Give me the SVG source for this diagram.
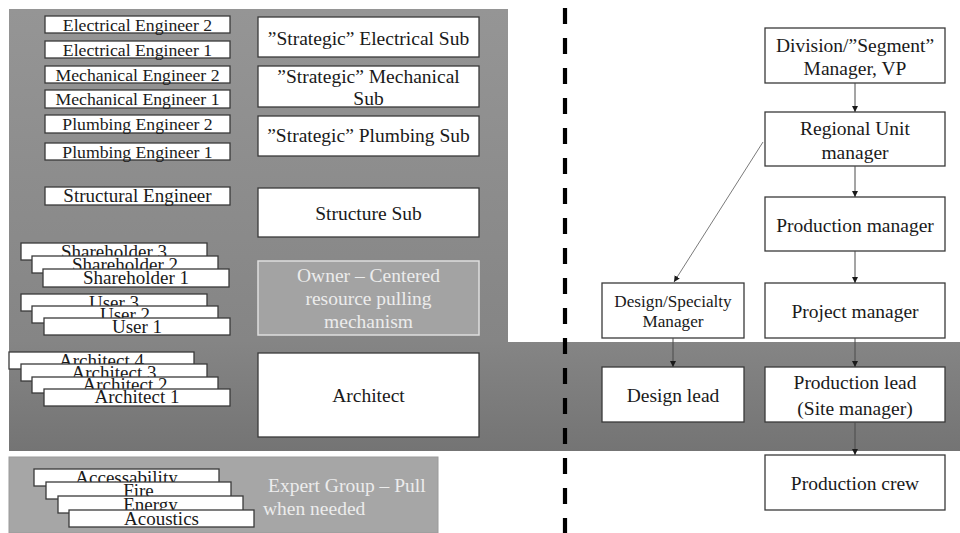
<svg xmlns="http://www.w3.org/2000/svg" width="960" height="533" viewBox="0 0 960 533">
  <style>
    .bx { fill: #ffffff; stroke: #3a3a3a; stroke-width: 1.3; }
    .t { font-family: "Liberation Serif", "Times New Roman", serif; fill: #1a1a1a; text-anchor: middle; }
    .sm { font-size: 17.7px; }
    .md { font-size: 19px; }
    .lg { font-size: 19.5px; }
    .lt { fill: #ececec; }
    .conn { fill: none; stroke: #4a4a4a; stroke-width: 1; }
    .diag { fill: none; stroke: #7a7a7a; stroke-width: 1; }
    .split { stroke: #000000; stroke-width: 4.2; stroke-dasharray: 16 14; }
  </style>
  <defs>
    <linearGradient id="panelGrad" gradientUnits="userSpaceOnUse" x1="0" y1="9" x2="0" y2="451">
      <stop offset="0" stop-color="#959595"/>
      <stop offset="0.75" stop-color="#858585"/>
      <stop offset="1" stop-color="#747474"/>
    </linearGradient>
    <marker id="arrow" markerUnits="userSpaceOnUse" markerWidth="8" markerHeight="8" refX="6" refY="3" orient="auto">
      <path d="M0,0 L6,3 L0,6 Z" fill="#1a1a1a"/>
    </marker>
  </defs>

  <rect x="0" y="0" width="960" height="533" fill="#ffffff"/>

  <!-- background panels -->
  <g id="panels">
    <path d="M9,9 H508 V342 H960 V451 H9 Z" fill="url(#panelGrad)"/>
    <rect x="9" y="457" width="429" height="76" fill="#a6a6a6" stroke="#9a9a9a" stroke-width="1"/>
  </g>

  <!-- dividing line -->
  <line class="split" x1="565" y1="8" x2="565" y2="533"/>

  <!-- engineers -->
  <g id="elec-eng-2"><rect class="bx" x="45" y="16" width="185" height="17"/><text class="t sm" x="137.5" y="30.5">Electrical Engineer 2</text></g>
  <g id="elec-eng-1"><rect class="bx" x="45" y="41" width="185" height="17"/><text class="t sm" x="137.5" y="55.5">Electrical Engineer 1</text></g>
  <g id="mech-eng-2"><rect class="bx" x="45" y="66" width="185" height="17"/><text class="t sm" x="137.5" y="80.5">Mechanical Engineer 2</text></g>
  <g id="mech-eng-1"><rect class="bx" x="45" y="90" width="185" height="18"/><text class="t sm" x="137.5" y="105">Mechanical Engineer 1</text></g>
  <g id="plumb-eng-2"><rect class="bx" x="45" y="115" width="185" height="18"/><text class="t sm" x="137.5" y="130">Plumbing Engineer 2</text></g>
  <g id="plumb-eng-1"><rect class="bx" x="45" y="143" width="185" height="17"/><text class="t sm" x="137.5" y="157.5">Plumbing Engineer 1</text></g>
  <g id="struct-eng"><rect class="bx" x="45" y="187" width="185" height="18"/><text class="t md" x="137.5" y="202">Structural Engineer</text></g>

  <!-- shareholders -->
  <g id="shareholders">
    <rect class="bx" x="21" y="243" width="186" height="17"/><text class="t md" x="114" y="258">Shareholder 3</text>
    <rect class="bx" x="32" y="256" width="186" height="17"/><text class="t md" x="125" y="271">Shareholder 2</text>
    <rect class="bx" x="43" y="269" width="186" height="18"/><text class="t md" x="136" y="284">Shareholder 1</text>
  </g>

  <!-- users -->
  <g id="users">
    <rect class="bx" x="21" y="294" width="186" height="17"/><text class="t md" x="114" y="308.5">User 3</text>
    <rect class="bx" x="32" y="306" width="186" height="17"/><text class="t md" x="125" y="320.5">User 2</text>
    <rect class="bx" x="44" y="318" width="186" height="17"/><text class="t md" x="137" y="332.5">User 1</text>
  </g>

  <!-- architects -->
  <g id="architects">
    <rect class="bx" x="9" y="352" width="185" height="17"/><text class="t md" x="101.5" y="366.5">Architect 4</text>
    <rect class="bx" x="21" y="364" width="186" height="17"/><text class="t md" x="114" y="378.5">Architect 3</text>
    <rect class="bx" x="32" y="377" width="186" height="16"/><text class="t md" x="125" y="391">Architect 2</text>
    <rect class="bx" x="44" y="389" width="186" height="17"/><text class="t md" x="137" y="403">Architect 1</text>
  </g>

  <!-- experts -->
  <g id="experts">
    <rect class="bx" x="34" y="469" width="185" height="17"/><text class="t md" x="126.5" y="484">Accessability</text>
    <rect class="bx" x="46" y="482" width="185" height="17"/><text class="t md" x="138.5" y="497">Fire</text>
    <rect class="bx" x="58" y="496" width="185" height="17"/><text class="t md" x="150.5" y="511">Energy</text>
    <rect class="bx" x="69" y="510" width="185" height="17"/><text class="t md" x="161.5" y="524.5">Acoustics</text>
  </g>
  <g id="expert-group">
    <text class="t lg lt" style="text-anchor:start" x="268" y="492">Expert Group – Pull</text>
    <text class="t lg lt" style="text-anchor:start" x="263" y="515">when needed</text>
  </g>

  <!-- subcontractors and owner -->
  <g id="elec-sub"><rect class="bx" x="258" y="17" width="221" height="40"/><text class="t lg" x="368.5" y="45">”Strategic” Electrical Sub</text></g>
  <g id="mech-sub"><rect class="bx" x="258" y="66" width="221" height="41"/><text class="t lg" x="368.5" y="83">”Strategic” Mechanical</text><text class="t lg" x="368.5" y="105">Sub</text></g>
  <g id="plumb-sub"><rect class="bx" x="258" y="116" width="221" height="40"/><text class="t lg" x="368.5" y="142">”Strategic” Plumbing Sub</text></g>
  <g id="struct-sub"><rect class="bx" x="258" y="188" width="221" height="49"/><text class="t lg" x="368.5" y="220">Structure Sub</text></g>
  <g id="owner">
    <rect x="258" y="261" width="221" height="74" fill="#a3a3a3" stroke="#dedede" stroke-width="1.5"/>
    <text class="t lg lt" x="368.5" y="282">Owner – Centered</text>
    <text class="t lg lt" x="368.5" y="305">resource pulling</text>
    <text class="t lg lt" x="368.5" y="328">mechanism</text>
  </g>
  <g id="architect"><rect class="bx" x="258" y="353" width="221" height="84"/><text class="t lg" x="368.5" y="402">Architect</text></g>

  <!-- contractor hierarchy -->
  <g id="division"><rect class="bx" x="765" y="28" width="180" height="55"/><text class="t lg" x="855" y="52">Division/”Segment”</text><text class="t lg" x="855" y="75">Manager, VP</text></g>
  <g id="regional"><rect class="bx" x="765" y="112" width="180" height="54"/><text class="t lg" x="855" y="135">Regional Unit</text><text class="t lg" x="855" y="159">manager</text></g>
  <g id="production-manager"><rect class="bx" x="765" y="197" width="180" height="54"/><text class="t lg" x="855" y="232">Production manager</text></g>
  <g id="project-manager"><rect class="bx" x="765" y="283" width="180" height="55"/><text class="t lg" x="855" y="318">Project manager</text></g>
  <g id="design-specialty"><rect class="bx" x="602" y="283" width="142" height="55"/><text class="t" style="font-size:17.2px" x="673" y="307">Design/Specialty</text><text class="t" style="font-size:17.2px" x="673" y="327">Manager</text></g>
  <g id="design-lead"><rect class="bx" x="602" y="367" width="142" height="55"/><text class="t lg" x="673" y="402">Design lead</text></g>
  <g id="production-lead"><rect class="bx" x="765" y="367" width="180" height="55"/><text class="t lg" x="855" y="389">Production lead</text><text class="t lg" x="855" y="415">(Site manager)</text></g>
  <g id="production-crew"><rect class="bx" x="765" y="455" width="180" height="55"/><text class="t lg" x="855" y="490">Production crew</text></g>

  <g id="connectors">
    <line class="conn" x1="855" y1="83" x2="855" y2="112" marker-end="url(#arrow)"/>
    <line class="conn" x1="855" y1="166" x2="855" y2="197" marker-end="url(#arrow)"/>
    <line class="conn" x1="855" y1="251" x2="855" y2="283" marker-end="url(#arrow)"/>
    <line class="conn" x1="855" y1="338" x2="855" y2="367" marker-end="url(#arrow)"/>
    <line class="conn" x1="855" y1="422" x2="855" y2="455" marker-end="url(#arrow)"/>
    <line class="conn" x1="673" y1="338" x2="673" y2="367" marker-end="url(#arrow)"/>
    <line class="diag" x1="763" y1="142" x2="674" y2="282" marker-end="url(#arrow)"/>
  </g>
</svg>
